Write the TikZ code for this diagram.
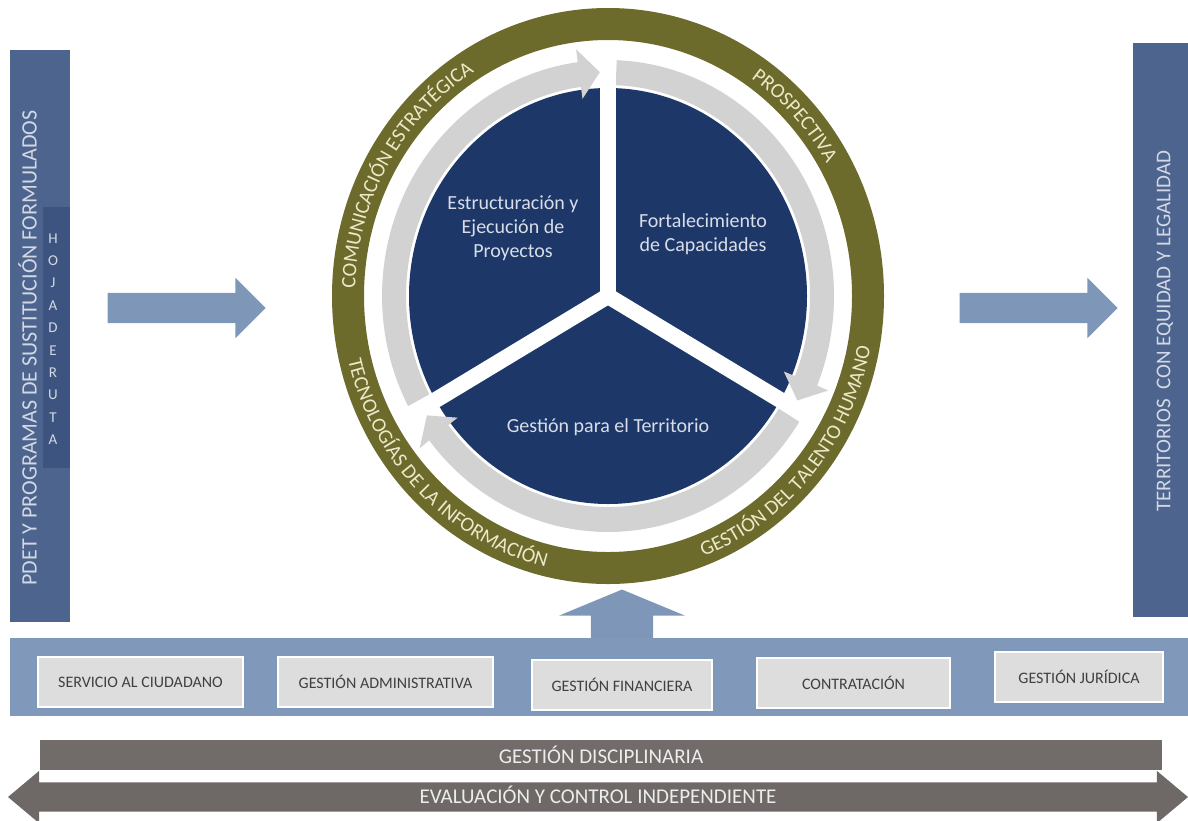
\documentclass[tikz,border=0pt]{standalone}
\usepackage{fontspec}
\setmainfont{Carlito}
\usepackage{tikz}
\usetikzlibrary{shapes}
\usetikzlibrary{decorations.text}
\usepackage{xcolor}

\definecolor{barblue}{HTML}{4D648E}
\definecolor{darkband}{HTML}{3E5480}
\definecolor{bartext}{HTML}{D3D9E4}
\definecolor{arrowblue}{HTML}{7E96B8}
\definecolor{bandblue}{HTML}{8098BA}
\definecolor{ringolive}{HTML}{6C6B2C}
\definecolor{ringtext}{HTML}{EDE8C8}
\definecolor{arcgray}{HTML}{D2D2D2}
\definecolor{piefill}{HTML}{1D3868}
\definecolor{pietext}{HTML}{D8DDE8}
\definecolor{boxgray}{HTML}{DDDDDD}
\definecolor{boxtext}{HTML}{404040}
\definecolor{discgray}{HTML}{716B69}
\definecolor{evalgray}{HTML}{6E6967}

\begin{document}
\begin{tikzpicture}[x=1pt, y=1pt, every node/.style={inner sep=0pt},
    bar/.style={fill=barblue},
    bartxt/.style={rotate=90, text=bartext},
    arr/.style={single arrow, fill=arrowblue, text depth=0pt},
    pie/.style={align=center, text=pietext, font=\fontsize{20}{24}\selectfont},
    box/.style={fill=boxgray, draw=white, line width=2, text=boxtext, font=\fontsize{16}{16}\selectfont, minimum height=50},
    divider/.style={white, line width=16},
    arcarrow/.style={fill=arcgray},
    ringtxt/.style={decorate, decoration={text along path, text align=center, text color=ringtext, text={|\fontsize{20.5}{20.5}\selectfont|#1}}}]
    \useasboundingbox (0,0) rectangle (1188,-820);

    \node[bar, minimum width=60, minimum height=572] (pdet) at (40,-336) {};
    \node[fill=darkband, minimum width=27, minimum height=261] (hojaband) at (56.5,-337.5) {};
    \node[bartxt, font=\fontsize{22}{22}\selectfont] (pdettxt) at (27.5,-348) {PDET Y PROGRAMAS DE SUSTITUCIÓN FORMULADOS};
    \node[align=center, text=bartext, font=\fontsize{15}{22.4}\selectfont] (hoja) at (53,-339) {H\\O\\J\\A\\D\\E\\R\\U\\T\\A};

    \node[bar, minimum width=55, minimum height=574] (terrbar) at (1160.5,-330) {};
    \node[bartxt, font=\fontsize{21}{21}\selectfont] (terr) at (1165,-331) {TERRITORIOS~ CON EQUIDAD Y LEGALIDAD};

    \node[arr, minimum height=158, text height=30pt, single arrow head extend=15pt] (inarrow) at (179,-308) {};
    \node[arr, minimum height=158, text height=30pt, single arrow head extend=15pt] (outarrow) at (1031,-308) {};
    \node[arr, rotate=90, minimum height=58, text height=62pt, single arrow head extend=31.5pt, single arrow tip angle=135] (uparrow) at (622,-625) {};

    \begin{scope}[shift={(608,-296)}]
        \draw[ringolive, line width=32] (0,0) ellipse[x radius=260, y radius=272];
        \fill[piefill] (0,0) ellipse[x radius=199, y radius=208];

        \fill[arcarrow] (207.8:226 and 236) arc[start angle=207.8, end angle=97.7, x radius=226, y radius=236]
            -- (97.7:238 and 249) -- (92.2:214 and 224) -- (97.7:190 and 199) -- (97.7:202 and 211)
            arc[start angle=97.7, end angle=207.8, x radius=202, y radius=211] -- cycle;
        \fill[arcarrow] (87.8:226 and 236) arc[start angle=87.8, end angle=-22.3, x radius=226, y radius=236]
            -- (-22.3:238 and 249) -- (-27.8:214 and 224) -- (-22.3:190 and 199) -- (-22.3:202 and 211)
            arc[start angle=-22.3, end angle=87.8, x radius=202, y radius=211] -- cycle;
        \fill[arcarrow] (-32.2:226 and 236) arc[start angle=-32.2, end angle=-142.3, x radius=226, y radius=236]
            -- (-142.3:238 and 249) -- (-147.8:214 and 224) -- (-142.3:190 and 199) -- (-142.3:202 and 211)
            arc[start angle=-142.3, end angle=-32.2, x radius=202, y radius=211] -- cycle;

        \draw[divider] (0,0) -- (90:240 and 251);
        \draw[divider] (0,0) -- (210:240 and 251);
        \draw[divider] (0,0) -- (330:240 and 251);

        \path[ringtxt={COMUNICACIÓN ESTRATÉGICA}] (185:253 and 264) arc[start angle=185, end angle=115, x radius=253, y radius=264];
        \path[ringtxt={PROSPECTIVA}] (68:253 and 264) arc[start angle=68, end angle=18, x radius=253, y radius=264];
        \path[ringtxt={GESTIÓN DEL TALENTO HUMANO}] (-77:267 and 279) arc[start angle=-77, end angle=-3, x radius=267, y radius=279];
        \path[ringtxt={TECNOLOGÍAS DE LA INFORMACIÓN}] (188:267 and 279) arc[start angle=188, end angle=262, x radius=267, y radius=279];
    \end{scope}

    \node[pie] (est) at (513,-228) {Estructuración y\\Ejecución de\\Proyectos};
    \node[pie] (fort) at (703,-234) {Fortalecimiento\\de Capacidades};
    \node[pie] (gest) at (608,-427) {Gestión para el Territorio};

    \node[fill=bandblue, minimum width=1178, minimum height=78] (band) at (599,-677) {};
    \node[box, minimum width=205] (serv) at (140.5,-682) {SERVICIO AL CIUDADANO};
    \node[box, minimum width=215] (adm) at (385.5,-682) {GESTIÓN ADMINISTRATIVA};
    \node[box, minimum width=180] (fin) at (622,-685) {GESTIÓN FINANCIERA};
    \node[box, minimum width=193] (cont) at (853.5,-682.5) {CONTRATACIÓN};
    \node[box, minimum width=168] (jur) at (1079,-677) {GESTIÓN JURÍDICA};

    \node[fill=discgray, text=white!93!black, minimum width=1122, minimum height=30, font=\fontsize{21}{21}\selectfont] (disc) at (601,-755) {GESTIÓN DISCIPLINARIA};
    \node[double arrow, fill=evalgray, text=white!93!black, double arrow head extend=11.5pt, double arrow tip angle=80, minimum height=1180, text height=21pt, text depth=8pt, font=\fontsize{21}{21}\selectfont] (eval) at (598,-797) {EVALUACIÓN Y CONTROL INDEPENDIENTE};
\end{tikzpicture}
\end{document}
